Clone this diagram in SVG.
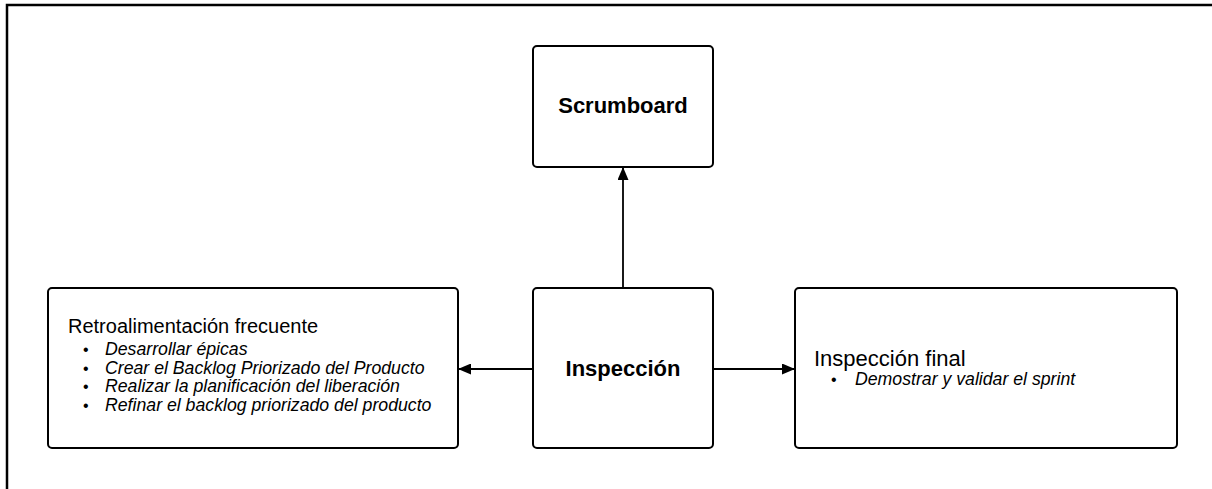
<svg xmlns="http://www.w3.org/2000/svg" width="1212" height="489" viewBox="0 0 1212 489">
<style>
.box{fill:#fff;stroke:#000;stroke-width:2}
.t{font-family:"Liberation Sans",Arial,sans-serif;fill:#000}
.b{font-weight:bold;font-size:22px}
.i{font-style:italic;font-size:17.7px}
.c{stroke:#000;stroke-width:1.8;fill:none}
</style>
<defs>
<marker id="ah" markerWidth="13" markerHeight="11" refX="12" refY="5.5" orient="auto" markerUnits="userSpaceOnUse" viewBox="0 0 13 11">
<path d="M0,0 L13,5.5 L0,11 z" fill="#000"/>
</marker>
</defs>
<rect x="0" y="0" width="1212" height="489" fill="#fff"/>
<path d="M7,489 V5 H1212" fill="none" stroke="#000" stroke-width="2.5"/>
<g id="connectors">
<line class="c" x1="623" y1="288" x2="623" y2="168" marker-end="url(#ah)"/>
<line class="c" x1="532" y1="369" x2="459" y2="369" marker-end="url(#ah)"/>
<line class="c" x1="714" y1="369" x2="794" y2="369" marker-end="url(#ah)"/>
</g>
<g id="scrumboard">
<rect class="box" x="533" y="46" width="180" height="121" rx="4"/>
<text class="t b" x="623" y="113" text-anchor="middle">Scrumboard</text>
</g>
<g id="inspeccion">
<rect class="box" x="533" y="288" width="180" height="160" rx="4"/>
<text class="t b" x="623" y="376" text-anchor="middle">Inspección</text>
</g>
<g id="retro">
<rect class="box" x="48" y="288" width="410" height="160" rx="4"/>
<text class="t" x="68" y="333" font-size="20">Retroalimentación frecuente</text>
<g class="t" font-size="16">
<text x="83" y="355">•</text><text class="i" x="105" y="355">Desarrollar épicas</text>
<text x="83" y="373.5">•</text><text class="i" x="105" y="373.5">Crear el Backlog Priorizado del Producto</text>
<text x="83" y="392">•</text><text class="i" x="105" y="392">Realizar la planificación del liberación</text>
<text x="83" y="410.5">•</text><text class="i" x="105" y="410.5">Refinar el backlog priorizado del producto</text>
</g>
</g>
<g id="final">
<rect class="box" x="795" y="288" width="382" height="160" rx="4"/>
<text class="t" x="814" y="366" font-size="22">Inspección final</text>
<text class="t" x="831" y="385" font-size="16">•</text>
<text class="t i" x="855" y="385">Demostrar y validar el sprint</text>
</g>
</svg>
